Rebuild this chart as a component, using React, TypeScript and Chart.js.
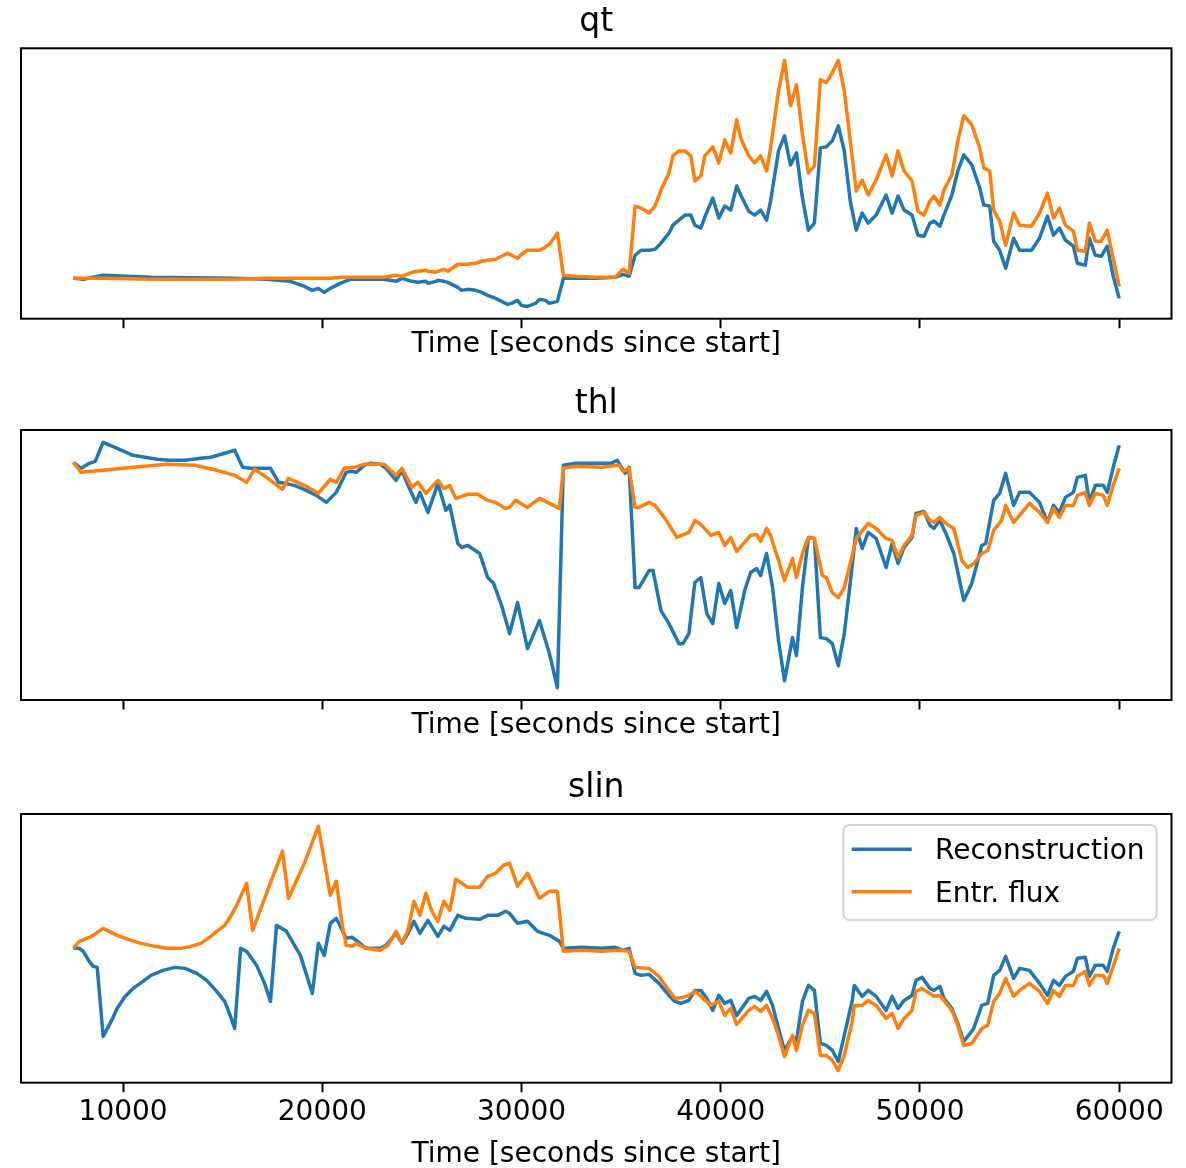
import { useEffect, useRef } from "react";
import { Chart, registerables } from "chart.js";

Chart.register(...registerables);

// ---------------- data ----------------
const TICK_VALUES = [10000, 20000, 30000, 40000, 50000, 60000];
const X_LABEL = "Time [seconds since start]";
const SERIES_LABELS = ["Reconstruction", "Entr. flux"];
const SERIES_COLORS = ["#1f77b4", "#ff7f0e"];
const PANEL_TITLES = ["qt", "thl", "slin"];

// qt (shared time axis)
const qtTime = [7500, 8000, 9000, 11400, 15600, 17200, 18400, 19100, 19500, 19800, 20100, 20400, 20900, 21400, 23100, 23700, 24000, 24500, 24800, 25200, 25300, 25700, 25800, 26100, 26300, 26800, 27000, 27300, 27700, 28000, 28300, 28700, 29000, 29300, 29500, 29800, 30000, 30300, 30700, 30900, 31200, 31400, 31800, 32100, 32700, 33700, 34700, 35100, 35400, 35700, 36000, 36400, 36700, 37000, 37400, 37600, 37900, 38200, 38500, 38700, 39000, 39200, 39600, 39900, 40200, 40500, 40800, 41000, 41400, 41700, 42000, 42300, 42500, 42900, 43200, 43500, 43800, 44100, 44400, 44700, 45000, 45300, 45600, 45900, 46200, 46500, 46800, 47100, 47400, 47800, 48300, 48600, 48900, 49200, 49600, 49900, 50200, 50500, 50700, 51000, 51200, 51600, 51900, 52200, 52600, 53000, 53200, 53500, 53700, 54000, 54300, 54700, 55000, 55600, 56000, 56400, 56700, 57000, 57300, 57700, 57900, 58300, 58500, 58800, 59100, 59400, 59700, 60000];
const qtRecon = [42, 41, 45, 43, 42, 41, 39, 34, 30, 32, 28, 32, 37, 41, 41, 39, 42, 39, 38, 39, 37, 39, 40, 39, 38, 33, 30, 31, 30, 28, 25, 22, 19, 16, 17, 20, 15, 14, 17, 21, 20, 17, 19, 42, 42, 42, 43, 46, 44, 65, 70, 70, 71, 77, 87, 95, 100, 105, 105, 95, 92, 103, 122, 102, 114, 110, 134, 125, 109, 105, 110, 100, 119, 169, 184, 155, 167, 122, 90, 97, 172, 173, 179, 194, 169, 119, 90, 107, 97, 105, 125, 107, 124, 110, 105, 85, 84, 97, 99, 94, 105, 125, 149, 165, 155, 132, 115, 114, 79, 70, 52, 82, 70, 70, 82, 104, 85, 92, 80, 74, 57, 55, 82, 65, 64, 74, 44, 22];
const qtEntr = [42, 42, 42, 41, 41, 42, 42, 42, 42, 42, 42, 42, 43, 43, 43, 45, 44, 48, 49, 50, 49, 48, 49, 51, 49, 56, 56, 56, 57, 59, 60, 61, 64, 67, 65, 62, 66, 70, 70, 70, 73, 76, 87, 45, 44, 43, 43, 51, 47, 114, 112, 107, 114, 130, 147, 164, 169, 169, 164, 139, 144, 164, 173, 157, 180, 167, 200, 182, 164, 157, 164, 149, 172, 229, 259, 214, 235, 185, 147, 154, 240, 237, 247, 259, 229, 179, 129, 140, 125, 140, 165, 144, 169, 149, 139, 109, 105, 119, 124, 115, 130, 145, 179, 204, 195, 172, 152, 149, 110, 99, 75, 107, 95, 94, 107, 127, 102, 112, 95, 89, 70, 69, 97, 79, 79, 90, 62, 34];

// thl
const thlReconTime = [7500, 7900, 8300, 8600, 9000, 9700, 10500, 11700, 12300, 13100, 13900, 14400, 15100, 15600, 16000, 16400, 17400, 17800, 18100, 18600, 19200, 19700, 20200, 20700, 21200, 21400, 21700, 22100, 22400, 22900, 23200, 23700, 24000, 24300, 24700, 24900, 25300, 25600, 25800, 26200, 26400, 26800, 27000, 27300, 27900, 28300, 28600, 29000, 29400, 29800, 30300, 30900, 31400, 31800, 32100, 32700, 33700, 34500, 34800, 35200, 35400, 35700, 35900, 36400, 36600, 37000, 37400, 37900, 38100, 38400, 38700, 39000, 39300, 39600, 39900, 40200, 40500, 40800, 41200, 41500, 41800, 42000, 42300, 42600, 42900, 43200, 43600, 43800, 44100, 44400, 44700, 45000, 45300, 45600, 45900, 46200, 46600, 46800, 47100, 47400, 47800, 48300, 48600, 48900, 49200, 49600, 49800, 50200, 50500, 50700, 51000, 51300, 51700, 52200, 52600, 53100, 53300, 53700, 54000, 54300, 54700, 55000, 55500, 56000, 56400, 56700, 57000, 57300, 57700, 57900, 58300, 58500, 58800, 59200, 59400, 59700, 60000];
const thlRecon = [238, 232, 237, 239, 258, 252, 245, 241, 240, 240, 242, 243, 247, 250, 233, 232, 232, 218, 217, 215, 210, 205, 198, 208, 228, 229, 228, 235, 237, 236, 232, 220, 230, 215, 198, 208, 188, 205, 217, 190, 195, 157, 153, 155, 147, 123, 117, 95, 67, 98, 52, 80, 47, 13, 235, 237, 237, 237, 240, 227, 233, 113, 113, 130, 130, 90, 77, 57, 57, 67, 118, 123, 87, 77, 117, 97, 110, 73, 110, 128, 132, 125, 147, 113, 60, 20, 63, 45, 113, 163, 162, 63, 62, 57, 35, 67, 135, 172, 152, 168, 162, 133, 157, 137, 153, 163, 187, 189, 175, 172, 180, 167, 147, 100, 117, 155, 157, 200, 207, 227, 195, 208, 208, 198, 178, 195, 188, 203, 208, 223, 225, 198, 215, 215, 208, 233, 255];
const thlEntrTime = [7500, 7900, 9000, 10500, 12200, 13600, 14700, 15600, 16200, 16600, 17200, 18000, 18300, 19100, 19800, 20400, 20700, 21100, 21600, 22100, 23100, 23700, 24000, 24500, 24800, 25200, 25800, 26100, 26400, 26700, 27300, 27800, 28300, 28700, 29200, 29400, 29700, 30300, 30900, 31400, 31900, 32100, 32700, 34000, 34900, 35100, 35400, 35700, 35900, 36400, 36700, 37200, 37800, 38400, 38700, 39000, 39500, 39900, 40200, 40500, 40800, 41500, 41800, 42000, 42300, 42500, 42900, 43200, 43600, 43800, 44100, 44400, 44700, 45100, 45300, 45600, 45900, 46200, 46600, 46800, 47400, 47800, 48300, 48600, 48900, 49200, 49600, 49800, 50200, 50500, 50700, 51000, 51300, 51700, 52100, 52400, 52700, 53100, 53400, 53700, 54100, 54300, 54700, 55000, 55500, 56000, 56400, 56700, 57000, 57300, 57700, 57900, 58300, 58500, 58800, 59200, 59400, 59700, 60000];
const thlEntr = [238, 228, 230, 233, 236, 235, 230, 225, 218, 231, 223, 211, 222, 215, 207, 221, 218, 232, 233, 236, 236, 225, 232, 213, 218, 207, 220, 212, 215, 202, 206, 206, 200, 198, 192, 193, 200, 193, 202, 197, 192, 232, 234, 233, 235, 229, 232, 193, 193, 198, 195, 182, 163, 168, 180, 176, 165, 168, 155, 163, 149, 165, 166, 159, 172, 165, 140, 120, 142, 123, 147, 163, 162, 125, 123, 108, 103, 113, 145, 162, 177, 172, 162, 160, 143, 155, 165, 185, 188, 180, 178, 183, 177, 172, 140, 133, 137, 147, 150, 170, 180, 195, 178, 185, 197, 188, 178, 192, 183, 195, 195, 205, 208, 195, 207, 205, 195, 215, 232];

// slin
const slinReconTime = [7500, 7800, 8000, 8300, 8500, 8700, 9000, 9400, 9700, 10100, 10500, 11000, 11400, 12000, 12600, 13100, 13700, 14200, 14700, 15100, 15300, 15600, 15900, 16200, 16700, 17100, 17400, 17700, 18200, 18900, 19500, 19800, 20100, 20400, 20700, 21000, 21200, 21500, 21700, 22200, 22900, 23200, 23700, 24000, 24300, 24600, 24900, 25300, 25800, 26100, 26400, 26800, 27200, 27900, 28300, 28800, 29200, 29400, 29800, 30300, 30800, 31400, 31900, 32100, 33000, 34000, 34700, 35100, 35400, 35700, 36000, 36400, 36900, 37400, 37700, 38000, 38400, 38700, 39000, 39300, 39600, 39900, 40200, 40500, 40800, 41400, 41700, 42000, 42300, 42600, 42900, 43200, 43600, 43800, 44100, 44400, 44700, 45000, 45300, 45600, 45900, 46200, 46600, 46700, 47100, 47400, 47800, 48300, 48600, 48900, 49200, 49600, 49800, 50100, 50500, 50700, 51000, 51200, 51600, 51900, 52200, 52700, 53100, 53400, 53700, 54000, 54300, 54700, 55000, 55500, 56000, 56400, 56700, 57000, 57300, 57700, 57900, 58300, 58500, 58800, 59200, 59400, 59700, 60000];
const slinRecon = [136, 136, 133, 123, 118, 117, 48, 63, 76, 88, 96, 103, 109, 114, 117, 116, 111, 104, 93, 83, 73, 56, 136, 133, 119, 101, 83, 159, 153, 129, 91, 141, 129, 161, 166, 154, 146, 147, 144, 136, 136, 139, 151, 141, 151, 163, 151, 164, 148, 158, 154, 169, 166, 165, 169, 169, 173, 171, 161, 163, 153, 149, 143, 136, 137, 136, 137, 134, 136, 111, 109, 110, 101, 89, 83, 81, 84, 94, 94, 86, 74, 89, 81, 84, 69, 86, 88, 84, 93, 79, 56, 34, 48, 44, 83, 99, 94, 41, 39, 34, 23, 49, 84, 99, 88, 94, 88, 74, 88, 76, 84, 89, 104, 107, 96, 94, 98, 86, 76, 61, 43, 56, 79, 81, 109, 114, 128, 106, 116, 114, 101, 89, 104, 99, 108, 113, 126, 127, 108, 119, 119, 113, 136, 153];
const slinEntrTime = [7500, 7800, 8200, 8500, 9000, 9700, 10400, 10900, 11600, 12200, 12900, 13400, 13900, 14400, 14700, 15100, 15400, 15700, 16200, 16500, 17200, 18000, 18300, 19100, 19800, 20400, 20700, 21000, 21200, 21500, 21700, 22200, 22900, 23300, 23700, 24000, 24300, 24600, 24900, 25200, 25500, 25800, 26100, 26400, 26700, 27300, 27900, 28300, 28700, 29100, 29400, 29800, 30300, 30900, 31400, 31800, 32100, 33000, 34000, 34900, 35400, 35700, 36400, 36900, 37400, 37700, 38100, 38400, 38700, 39000, 39500, 39900, 40200, 40500, 40800, 41400, 41700, 42000, 42300, 42600, 42900, 43200, 43600, 43800, 44100, 44400, 44700, 45000, 45300, 45600, 45900, 46200, 46600, 46700, 47100, 47400, 47800, 48300, 48600, 48900, 49200, 49600, 49800, 50100, 50500, 50700, 51000, 51200, 51600, 51900, 52200, 52600, 53100, 53400, 53700, 54000, 54300, 54700, 55000, 55500, 56000, 56400, 56700, 57000, 57300, 57700, 57900, 58300, 58500, 58800, 59200, 59400, 59700, 60000];
const slinEntr = [136, 143, 146, 149, 156, 149, 144, 141, 138, 136, 136, 138, 141, 148, 153, 159, 168, 179, 201, 154, 191, 233, 186, 221, 258, 189, 203, 159, 139, 138, 141, 136, 134, 139, 153, 141, 154, 183, 169, 191, 173, 163, 183, 174, 205, 197, 197, 208, 211, 219, 221, 198, 211, 186, 193, 193, 133, 134, 133, 134, 133, 117, 116, 108, 94, 86, 87, 89, 93, 88, 79, 83, 69, 76, 60, 74, 78, 73, 79, 66, 49, 28, 49, 34, 59, 74, 71, 29, 29, 24, 14, 29, 63, 79, 79, 84, 79, 66, 71, 56, 66, 74, 93, 96, 91, 88, 89, 84, 74, 59, 39, 41, 56, 59, 83, 91, 106, 88, 94, 101, 93, 81, 94, 88, 99, 99, 108, 113, 99, 109, 109, 101, 118, 136];

// ---------------- layout / style ----------------
const FONT = "'DejaVu Sans'";
const TEXT_COLOR = "#000000";

type PanelSpec = {
  title: string;
  reconT: number[];
  recon: number[];
  entrT: number[];
  entr: number[];
  canvasTop: number;
  canvasH: number;
  areaTop: number;
  areaBottom: number;
  tickLabels: boolean;
  xlabelOffset: number;
  legend: boolean;
};

const panels: PanelSpec[] = [
  { title: PANEL_TITLES[0], reconT: qtTime, recon: qtRecon, entrT: qtTime, entr: qtEntr, canvasTop: 0, canvasH: 381, areaTop: 48.3, areaBottom: 318.7, tickLabels: false, xlabelOffset: 33, legend: false },
  { title: PANEL_TITLES[1], reconT: thlReconTime, recon: thlRecon, entrT: thlEntrTime, entr: thlEntr, canvasTop: 381, canvasH: 381, areaTop: 49, areaBottom: 319, tickLabels: false, xlabelOffset: 33, legend: false },
  { title: PANEL_TITLES[2], reconT: slinReconTime, recon: slinRecon, entrT: slinEntrTime, entr: slinEntr, canvasTop: 762, canvasH: 406, areaTop: 52, areaBottom: 320.7, tickLabels: true, xlabelOffset: 79.5, legend: true },
];

function makeConfig(p: PanelSpec): any {
  const allY = [...p.recon, ...p.entr];
  const yMin = Math.min(...allY);
  const yMax = Math.max(...allY);
  const yPad = 0.05 * (yMax - yMin);
  const allT = [...p.reconT, ...p.entrT];
  const tMin = Math.min(...allT);
  const tMax = Math.max(...allT);
  const tPad = 0.05 * (tMax - tMin);

  const textPlugin = {
    id: "panelText",
    afterDraw(chart: any) {
      const { ctx, chartArea } = chart;
      const cx = (chartArea.left + chartArea.right) / 2;
      ctx.save();
      ctx.fillStyle = TEXT_COLOR;
      ctx.textAlign = "center";
      ctx.textBaseline = "alphabetic";
      ctx.font = `33px ${FONT}`;
      ctx.fillText(p.title, cx, chartArea.top - 17.5);
      ctx.font = `28px ${FONT}`;
      ctx.fillText(X_LABEL, cx, chartArea.bottom + p.xlabelOffset);
      ctx.restore();
    },
  };

  const framePlugin = {
    id: "frame",
    afterDatasetsDraw(chart: any) {
      const { ctx, chartArea } = chart;
      ctx.save();
      ctx.strokeStyle = "#000000";
      ctx.lineWidth = 2;
      ctx.strokeRect(chartArea.left, chartArea.top, chartArea.right - chartArea.left, chartArea.bottom - chartArea.top);
      ctx.restore();
    },
  };

  const legendPlugin = {
    id: "mplLegend",
    afterDraw(chart: any) {
      if (!p.legend) return;
      const { ctx, chartArea } = chart;
      const w = 313.4;
      const h = 95;
      const x = chartArea.right - 14.8 - w;
      const y = chartArea.top + 11;
      ctx.save();
      ctx.beginPath();
      ctx.roundRect(x, y, w, h, 6);
      ctx.fillStyle = "rgba(255,255,255,0.8)";
      ctx.fill();
      ctx.strokeStyle = "#d4d4d4";
      ctx.lineWidth = 2;
      ctx.stroke();
      const rows = [24.3, 66.7];
      chart.data.datasets.forEach((ds: any, i: number) => {
        const idx = ds.label === SERIES_LABELS[0] ? 0 : 1;
        const ry = y + rows[idx];
        ctx.beginPath();
        ctx.moveTo(x + 8.4, ry);
        ctx.lineTo(x + 68.4, ry);
        ctx.strokeStyle = ds.borderColor;
        ctx.lineWidth = 3.5;
        ctx.stroke();
        ctx.fillStyle = TEXT_COLOR;
        ctx.font = `28px ${FONT}`;
        ctx.textAlign = "left";
        ctx.textBaseline = "alphabetic";
        ctx.fillText(ds.label, x + 91.7, ry + 10);
      });
      ctx.restore();
    },
  };

  const lineStyle = {
    borderWidth: 3.5,
    pointRadius: 0,
    tension: 0,
    fill: false,
    borderJoinStyle: "round",
    borderCapStyle: "butt",
  };

  return {
    type: "line",
    data: {
      datasets: [
        {
          label: SERIES_LABELS[0],
          data: p.reconT.map((t, i) => ({ x: t, y: p.recon[i] })),
          borderColor: SERIES_COLORS[0],
          order: 1,
          ...lineStyle,
        },
        {
          label: SERIES_LABELS[1],
          data: p.entrT.map((t, i) => ({ x: t, y: p.entr[i] })),
          borderColor: SERIES_COLORS[1],
          order: 0,
          ...lineStyle,
        },
      ],
    },
    options: {
      animation: false,
      responsive: false,
      devicePixelRatio: 1,
      events: [],
      layout: { padding: { left: 21, right: 14.5, top: p.areaTop, bottom: 0 } },
      plugins: {
        legend: { display: false },
        tooltip: { enabled: false },
        title: { display: false },
      },
      scales: {
        x: {
          type: "linear",
          position: "bottom",
          min: tMin - tPad,
          max: tMax + tPad,
          afterBuildTicks: (scale: any) => {
            scale.ticks = TICK_VALUES.map((v) => ({ value: v }));
          },
          afterFit: (scale: any) => {
            scale.height = p.canvasH - p.areaBottom;
          },
          grid: {
            display: true,
            drawOnChartArea: false,
            drawTicks: true,
            tickLength: 9.5,
            tickWidth: 2,
            tickColor: "#000000",
          },
          border: { display: false },
          ticks: {
            display: p.tickLabels,
            autoSkip: false,
            maxRotation: 0,
            minRotation: 0,
            padding: 4,
            color: TEXT_COLOR,
            font: { family: "DejaVu Sans", size: 28 },
            callback: (v: any) => String(v),
          },
        },
        y: {
          display: false,
          min: yMin - yPad,
          max: yMax + yPad,
        },
      },
    },
    plugins: [framePlugin, textPlugin, legendPlugin],
  };
}

function PanelChart({ spec }: { spec: PanelSpec }) {
  const ref = useRef<HTMLCanvasElement | null>(null);
  useEffect(() => {
    if (!ref.current) return;
    const chart = new Chart(ref.current, makeConfig(spec));
    return () => chart.destroy();
  }, [spec]);
  return (
    <canvas
      ref={ref}
      width={1186}
      height={spec.canvasH}
      style={{ position: "absolute", left: 0, top: spec.canvasTop, width: 1186, height: spec.canvasH, display: "block" }}
    />
  );
}

export default function App() {
  return (
    <div style={{ position: "fixed", left: 0, top: 0, width: 1186, height: 1168, background: "#ffffff", overflow: "hidden" }}>
      {panels.map((p) => (
        <PanelChart key={p.title} spec={p} />
      ))}
    </div>
  );
}
